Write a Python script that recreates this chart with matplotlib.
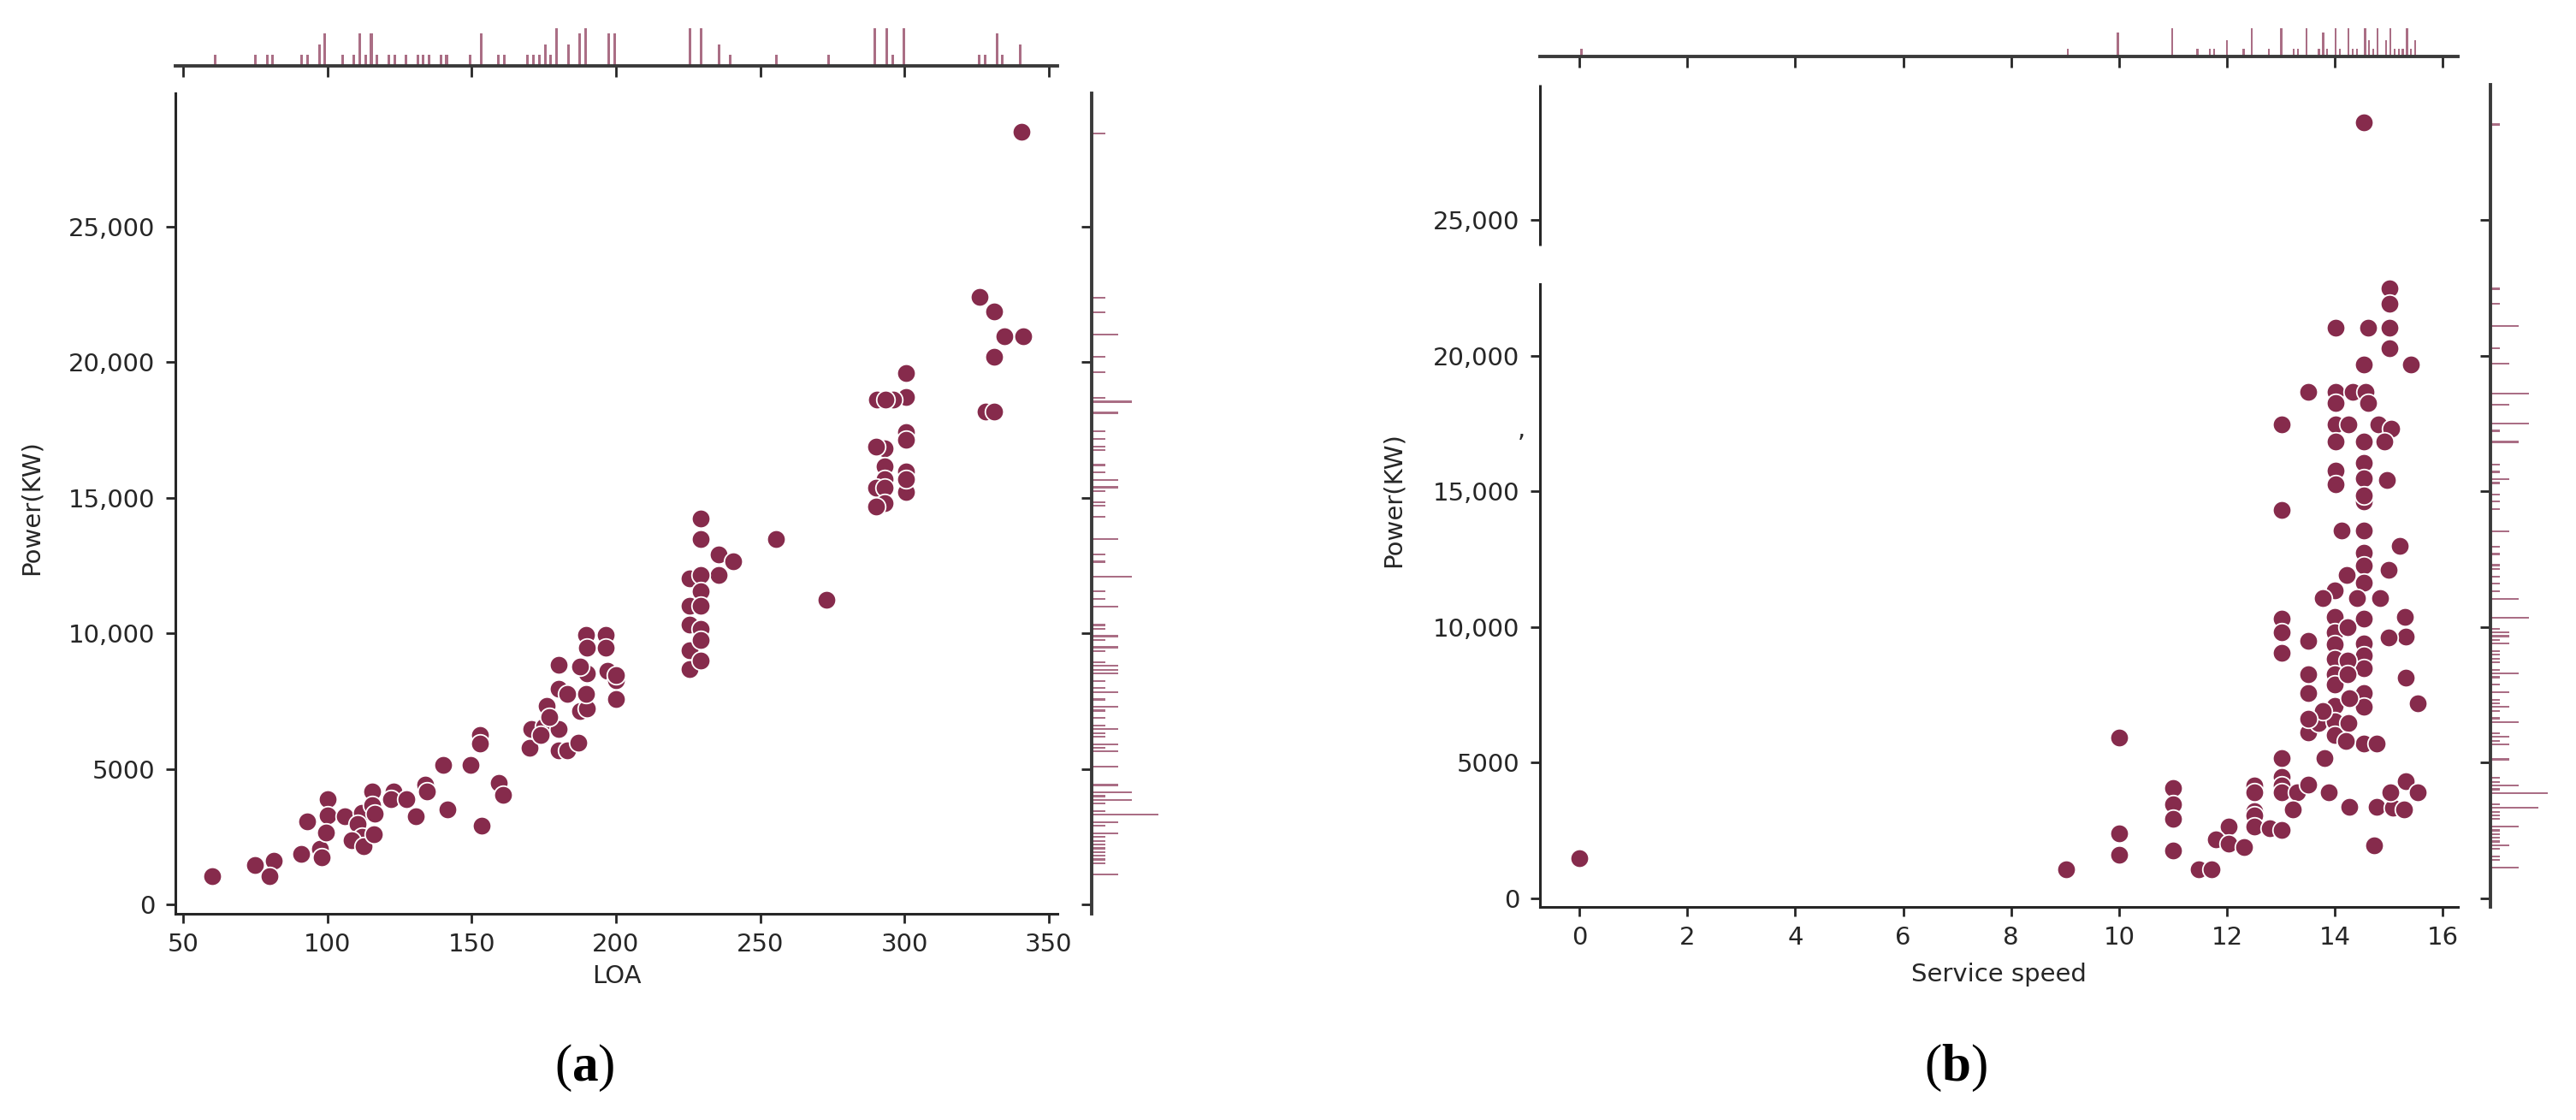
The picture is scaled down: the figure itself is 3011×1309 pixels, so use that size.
import matplotlib.pyplot as plt
import numpy as np
from matplotlib.ticker import FuncFormatter

#### Donnees
# (a) LOA vs Power
loa = [60, 75, 81.5, 80, 91, 97.5, 98, 93, 100, 100, 99.5, 106, 112, 110.5, 112,
       108.5, 112.5, 116, 115.5, 115.5, 116.5, 123, 122, 127.5, 130.5, 134, 134.5,
       140, 141.5, 149.5, 153, 153, 153.5, 159.5, 161, 170.5, 170, 176, 175, 180,
       180, 183, 180, 180, 183, 187, 187.5, 190, 190, 189.5, 190, 189.5, 187.5,
       196.5, 196.5, 197, 200, 200, 200, 174, 177,
       340.5, 326, 331, 334.5, 341, 331, 328, 331, 300.5, 300.5, 290.5, 296, 293.5,
       300.5, 300.5, 293, 290, 293, 293, 290, 293, 293, 290, 300.5, 300.5, 300.5,
       255.5, 273, 229.5, 229.5, 235.5, 240.5, 235.5, 225.5, 229.5, 229.5, 225.5,
       229.5, 225.5, 229.5, 225.5, 229.5, 225.5, 229.5]
power_a = [1040, 1460, 1610, 1040, 1870, 2060, 1750, 3070, 3890, 3280, 2650, 3260,
           3370, 2980, 2500, 2370, 2140, 2590, 4180, 3650, 3340, 4180, 3890, 3890,
           3260, 4420, 4170, 5130, 3490, 5130, 6260, 5930, 2910, 4470, 4040, 6480,
           5780, 7320, 6580, 8830, 7960, 7780, 6480, 5690, 5690, 5980, 7140, 7220,
           8520, 9950, 9460, 7780, 8780, 9950, 9460, 8620, 8270, 7570, 8460, 6240, 6900,
           28500, 22420, 21860, 20970, 20970, 20190, 18180, 18180, 19590, 18730,
           18610, 18610, 18610, 17430, 17150, 16820, 16900, 16150, 15700, 15370,
           15370, 14800, 14680, 15970, 15210, 15700, 13490, 11250, 14240, 13490,
           12900, 12670, 12160, 12040, 12160, 11560, 11020, 11020, 10320, 10170,
           9370, 9740, 8690, 8990]

# (b) Service speed vs Power
speed = [0, 9.02, 10.0, 10.0, 10.0, 11.0, 11.0, 11.0, 11.0, 11.47, 11.71, 12.03, 11.79,
         12.03, 12.31, 12.5, 12.5, 12.5, 12.5, 12.5, 12.79, 13.02, 13.02, 13.02, 13.02,
         13.02, 13.3, 13.22, 13.51, 13.89, 14.26, 14.72, 14.77, 15.07, 15.28, 15.02,
         15.32, 15.53, 13.81, 13.51, 13.69, 13.51, 13.51, 13.51, 13.02, 13.02, 13.02,
         14.0, 14.0, 14.0, 14.0, 14.0, 14.0, 14.0, 14.0, 14.0, 14.0,
         14.54, 14.54, 14.54, 14.54, 14.54, 14.54, 14.54, 14.54, 14.54, 14.54, 14.54, 14.54,
         14.13, 15.2, 15.0, 14.22, 14.41, 14.83, 13.78, 15.3, 15.32, 15.0, 15.32, 15.53,
         14.23, 14.24, 14.24, 14.25, 14.21, 14.77, 14.27, 13.78, 13.51,
         14.54, 15.01, 15.01, 14.01, 14.61, 15.01, 15.01, 14.53, 15.41, 13.5, 14.01,
         14.33, 14.56, 14.01, 14.61, 13.02, 14.01, 14.25, 14.8, 15.05, 14.01, 14.53,
         14.92, 14.53, 14.01, 14.01, 14.53, 14.97, 14.53, 13.02]
power_b = [1460, 1050, 5910, 2370, 1600, 4050, 3470, 2910, 1740, 1050, 1050, 2630, 2160,
           2020, 1890, 4150, 3890, 3210, 3050, 2630, 2580, 2520, 5170, 4470, 4150,
           3890, 3890, 3280, 4190, 3890, 3370, 1950, 3370, 3330, 3280, 3890,
           4310, 3890, 5170, 6120, 6470, 7570, 8260, 9470, 10290, 9800, 9050,
           11360, 10360, 9800, 9360, 8830, 8260, 7890, 7100, 6520, 6000,
           14620, 13550, 12730, 12250, 11620, 10310, 9380, 8940, 8470, 7570, 7050, 5700,
           13550, 12990, 12090, 11900, 11060, 11060, 11060, 10360, 9650, 9620, 8130, 7170,
           9990, 8750, 8260, 6470, 5780, 5700, 7360, 6890, 6600,
           28600, 22500, 21930, 21030, 21030, 21030, 20280, 19670, 19670, 18670, 18670,
           18670, 18670, 18250, 18250, 17480, 17480, 17480, 17480, 17300, 16850, 16850,
           16850, 16040, 15780, 15270, 15480, 15410, 14850, 14300]

loa_ticks = [50, 100, 150, 200, 250, 300, 350]
speed_ticks = [0, 2, 4, 6, 8, 10, 12, 14, 16]
power_ticks = [0, 5000, 10000, 15000, 20000, 25000]

#### Style
W, H = 3011, 1309
plt.rcParams['font.family'] = 'DejaVu Sans'
plt.rcParams['mathtext.fontset'] = 'custom'
plt.rcParams['mathtext.rm'] = 'Liberation Serif'
plt.rcParams['mathtext.bf'] = 'Liberation Serif:bold'
dot = '#862b4c'
barc = '#8e3d5c'
ink = '#262626'

fig = plt.figure(figsize=(W / 100, H / 100), dpi=100)


def box(x0, y0, x1, y1):
    # pixels (haut-gauche) -> coordonnees figure
    return [x0 / W, 1 - y1 / H, (x1 - x0) / W, (y1 - y0) / H]


def kfmt(v, pos):
    return f'{v:,.0f}' if v >= 10000 else f'{v:.0f}'


def joint(main_px, top_px, side_px, x, y, xlim, ylim, xticks, xlabel,
          xbins, xlab_y, ylab_x, gap=None):
    ax = fig.add_axes(box(*main_px))
    ax.scatter(x, y, s=240, color=dot, edgecolor='white', linewidth=1.3, zorder=3)
    ax.set_xlim(xlim)
    ax.set_ylim(ylim)
    ax.set_xticks(xticks)
    ax.set_yticks(power_ticks)
    ax.yaxis.set_major_formatter(FuncFormatter(kfmt))
    for s in ['top', 'right']:
        ax.spines[s].set_visible(False)
    for s in ['left', 'bottom']:
        ax.spines[s].set_linewidth(2.2)
        ax.spines[s].set_color(ink)
    ax.tick_params(axis='both', labelsize=21, colors=ink, width=2, length=8)
    ax.tick_params(axis='x', pad=8)
    ax.tick_params(axis='y', pad=9)
    ax.set_xlabel(xlabel, fontsize=21, color=ink)
    ax.set_ylabel('Power(KW)', fontsize=21, color=ink)
    ax.xaxis.set_label_coords(0.5, xlab_y)
    ax.yaxis.set_label_coords(ylab_x, 0.495)
    if gap is not None:
        ax.spines['left'].set_bounds(ylim[0], gap[0])
        ax.plot([0, 0], [gap[1], ylim[1]], transform=ax.get_yaxis_transform(),
                color=ink, lw=2.2, clip_on=False, solid_capstyle='butt')

    # histogramme du haut
    at = fig.add_axes(box(*top_px))
    at.hist(x, bins=xbins, rwidth=0.45, color=barc, alpha=0.75)
    at.set_xlim(xlim)
    at.set_ylim(0, 3.5)
    at.set_xticks(xticks)
    at.set_xticklabels([])
    at.set_yticks([])
    for s in ['top', 'right', 'left']:
        at.spines[s].set_visible(False)
    at.spines['bottom'].set_linewidth(2.8)
    at.spines['bottom'].set_color('#3a3a3a')
    at.tick_params(axis='x', length=9, width=2, colors=ink)

    # histogramme de droite
    ar = fig.add_axes(box(*side_px))
    ar.hist(y, bins=200, orientation='horizontal', rwidth=0.5,
            color=barc, alpha=0.75)
    ar.set_ylim(ylim)
    ar.set_xlim(0, 8)
    ar.set_yticks(power_ticks)
    ar.set_yticklabels([])
    ar.set_xticks([])
    for s in ['top', 'right', 'bottom']:
        ar.spines[s].set_visible(False)
    ar.spines['left'].set_linewidth(2.8)
    ar.spines['left'].set_color('#3a3a3a')
    ar.tick_params(axis='y', length=9, width=2, colors=ink)
    return ax


ax_a = joint((205, 109, 1236, 1068), (205, 33, 1236, 77), (1276, 109, 1400, 1068),
             loa, power_a, (47.3, 353), (-347, 29924), loa_ticks, 'LOA',
             140, -0.062, -0.15)

ax_b = joint((1800, 99, 2873, 1060), (1800, 33, 2873, 66), (2911, 99, 3000, 1060),
             speed, power_b, (-0.73, 16.28), (-331, 30000), speed_ticks,
             'Service speed', 200, -0.068, -0.147, gap=(22660, 24060))
# petite virgule isolee a gauche de l'axe (b)
ax_b.text(-0.0205, 17240, ',', transform=ax_b.get_yaxis_transform(),
          fontsize=21, color=ink, ha='center', va='center')

fig.text(683 / W, 1 - 1248 / H, r'($\mathbf{a}$)', fontsize=44,
         family='Liberation Serif', ha='center', va='center')
fig.text(2286 / W, 1 - 1248 / H, r'($\mathbf{b}$)', fontsize=44,
         family='Liberation Serif', ha='center', va='center')

fig.savefig('out.png', dpi=100)
